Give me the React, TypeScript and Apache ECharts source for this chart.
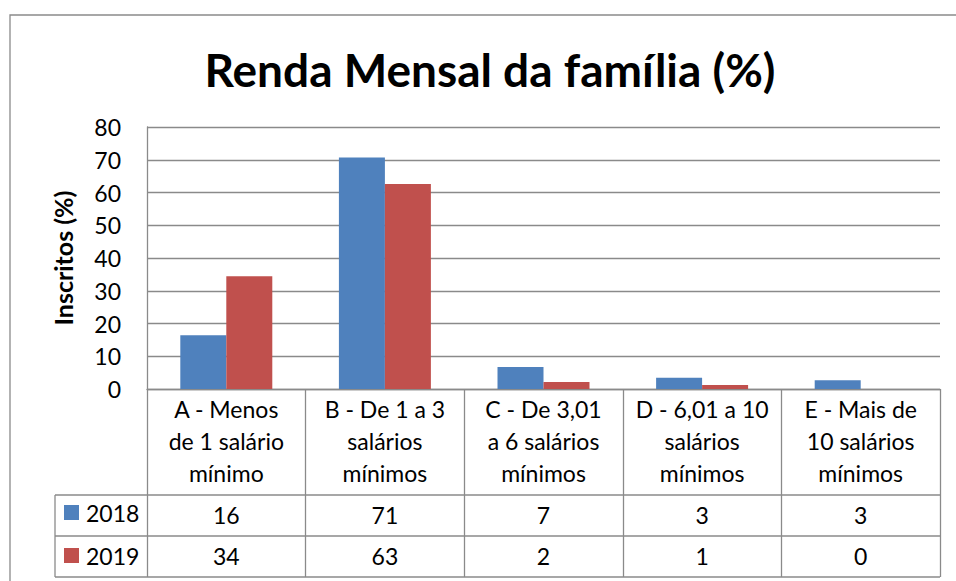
import React, { useEffect, useRef } from "react";
import * as echarts from "echarts";

const titleText = "Renda Mensal da família (%)";
const yAxisName = "Inscritos (%)";
const categories = [
  "A - Menos\nde 1 salário\nmínimo",
  "B - De 1 a 3\nsalários\nmínimos",
  "C - De 3,01\na 6 salários\nmínimos",
  "D - 6,01 a 10\nsalários\nmínimos",
  "E - Mais de\n10 salários\nmínimos",
];
const seriesNames = ["2018", "2019"];
const values2018 = [16.4, 70.7, 6.7, 3.4, 2.7];
const values2019 = [34.4, 62.6, 2.1, 1.2, 0];
const yTicks = { min: 0, max: 80, interval: 10 };

const FONT = "Lato, 'Open Sans', sans-serif";
const GRAY = "#8a8a8a";
const BLUE = "#4F81BD";
const RED = "#C0504D";

export default function App() {
  const ref = useRef<HTMLDivElement>(null);
  useEffect(() => {
    if (!ref.current) return;
    const chart = echarts.init(ref.current, null, { renderer: "svg" });
    const plotLeft = 147;
    const plotRight = 940;
    const axisY = 389;
    const tableTop = 495;
    const rowH = 41;
    const labelStyle = { color: "#000", fontFamily: FONT, fontSize: 23 };
    const hLines = [0, 1, 2].map((i) => ({
      type: "line",
      shape: { x1: 55, y1: tableTop + i * rowH, x2: plotRight, y2: tableTop + i * rowH },
      style: { stroke: GRAY, lineWidth: 1.3 },
    }));
    chart.setOption({
      animation: false,
      backgroundColor: "#fff",
      title: {
        text: titleText,
        left: 490,
        textAlign: "center",
        top: 46,
        padding: 0,
        textStyle: { fontFamily: FONT, fontWeight: "bold", fontSize: 46, color: "#000" },
      },
      legend: {
        orient: "vertical",
        left: 64,
        top: 501,
        padding: 0,
        itemWidth: 15,
        itemHeight: 15,
        itemGap: 20,
        icon: "rect",
        textStyle: { ...labelStyle, lineHeight: 20, padding: [0, 0, 0, 2] },
        data: seriesNames,
      },
      grid: { left: plotLeft, right: 956 - plotRight, top: 127, bottom: 581 - axisY },
      xAxis: [
        {
          type: "category",
          data: categories,
          axisLine: { lineStyle: { color: GRAY, width: 1.3 } },
          axisTick: { show: true, length: 188, lineStyle: { color: GRAY, width: 1.3 } },
          axisLabel: { ...labelStyle, lineHeight: 32, margin: 4, interval: 0 },
        },
        {
          type: "category",
          position: "bottom",
          data: values2018.map((v) => String(Math.round(v))),
          axisLine: { show: false },
          axisTick: { show: false },
          axisLabel: { ...labelStyle, lineHeight: 20, margin: 116, interval: 0 },
        },
        {
          type: "category",
          position: "bottom",
          data: values2019.map((v) => String(Math.round(v))),
          axisLine: { show: false },
          axisTick: { show: false },
          axisLabel: { ...labelStyle, lineHeight: 20, margin: 157, interval: 0 },
        },
      ],
      yAxis: {
        type: "value",
        min: yTicks.min,
        max: yTicks.max,
        interval: yTicks.interval,
        name: yAxisName,
        nameLocation: "middle",
        nameGap: 72,
        nameRotate: 90,
        nameTextStyle: { fontFamily: FONT, fontWeight: "bold", fontSize: 25, color: "#000" },
        axisLine: { show: true, lineStyle: { color: GRAY, width: 1.3 } },
        axisTick: { show: false },
        axisLabel: { ...labelStyle, margin: 26 },
        splitLine: { lineStyle: { color: GRAY, width: 1.3 } },
      },
      series: [
        {
          name: seriesNames[0],
          type: "bar",
          data: values2018,
          itemStyle: { color: BLUE },
          barGap: "0%",
          barCategoryGap: "42%",
        },
        {
          name: seriesNames[1],
          type: "bar",
          data: values2019,
          itemStyle: { color: RED },
          barGap: "0%",
          barCategoryGap: "42%",
        },
      ],
      graphic: [
        {
          type: "rect",
          shape: { x: 10, y: 15, width: 980, height: 620 },
          style: { fill: "none", stroke: GRAY, lineWidth: 1.3 },
          silent: true,
        },
        ...hLines,
        {
          type: "line",
          shape: { x1: 55, y1: tableTop, x2: 55, y2: tableTop + 2 * rowH },
          style: { stroke: GRAY, lineWidth: 1.3 },
        },
      ],
    });
    return () => chart.dispose();
  }, []);
  return (
    <div
      ref={ref}
      style={{ position: "fixed", left: 0, top: 0, width: 956, height: 581, background: "#fff" }}
    />
  );
}
